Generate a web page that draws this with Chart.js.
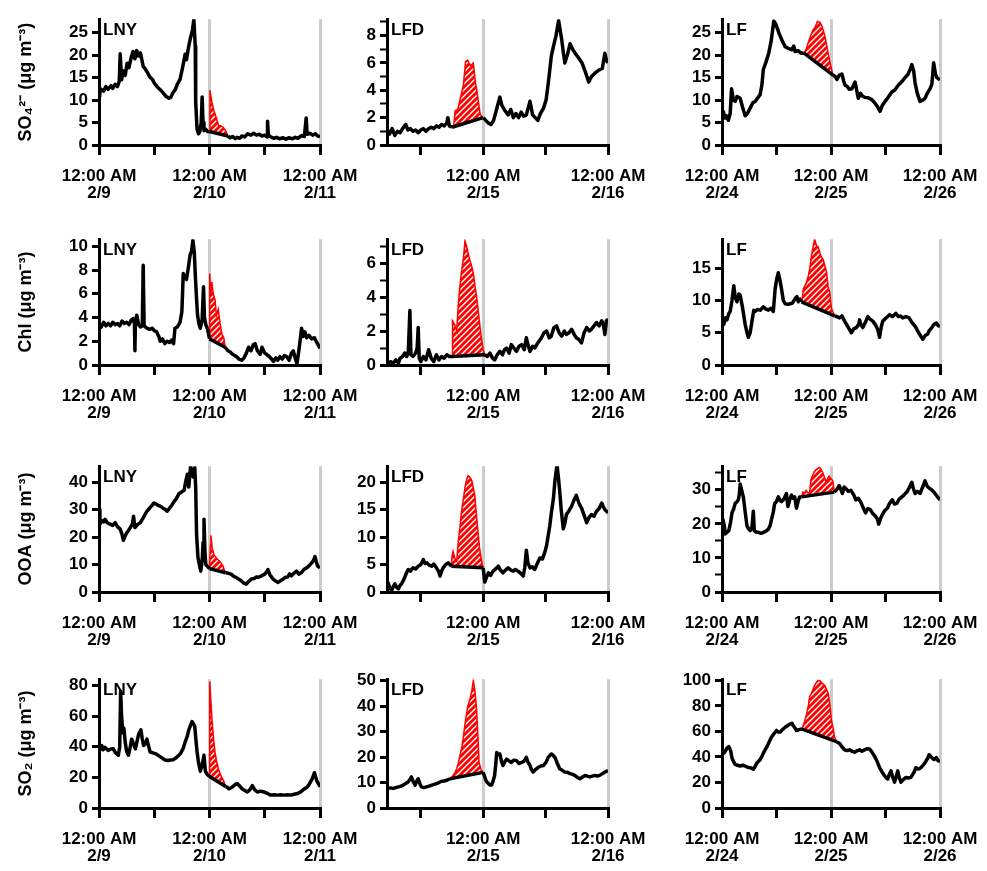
<!DOCTYPE html>
<html>
<head>
<meta charset="utf-8">
<script src="https://cdn.jsdelivr.net/npm/chart.js@4.4.0/dist/chart.umd.min.js"></script>
<style>
  body { margin: 0; background: #fff; width: 987px; height: 871px; position: relative; overflow: hidden; }
  canvas { position: absolute; }
</style>
</head>
<body>
<script>
// ---- data (hours from midnight of the first day, value) ----
const TIME_LABEL = '12:00 AM';
const lnyDates = ['2/9', '2/10', '2/11'];
const lfdDates = ['2/14', '2/15', '2/16'];
const lfDates = ['2/24', '2/25', '2/26'];
const xTicksFull = [0, 12, 24, 36, 48];
const xTicksLfd = [12, 24, 36, 48];
const yTitles = ['SO\u2084\u00B2\u207B (\u03BCg m\u207B\u00B3)', 'Chl (\u03BCg m\u207B\u00B3)', 'OOA (\u03BCg m\u207B\u00B3)', 'SO\u2082 (\u03BCg m\u207B\u00B3)'];

// SO4
const lnySo4Pre = [[0,9.6],[0.3,12.5],[1,12],[1.5,13],[2,12.4],[2.6,13.2],[3,12.6],[3.5,13.5],[4,13],[4.4,14.2],[4.6,20.3],[4.9,14.5],[5.3,16.5],[5.7,15.5],[6.1,18.2],[6.5,17.2],[7,19.5],[7.4,20.8],[7.8,19.2],[8.2,21],[8.6,19.8],[9,20.5],[9.6,17.5],[10,17],[10.6,16],[11,15.2],[11.6,14.6],[12,13.8],[12.6,13],[13,12.6],[13.6,12],[14,11.5],[14.6,10.8],[15.2,10.4],[15.6,10.6],[16,11.5],[16.6,12.4],[17,13.5],[17.6,14.6],[18,16.5],[18.4,18.5],[18.7,20.2],[19,19],[19.4,21.5],[19.9,24],[20.3,25.5],[20.6,28],[20.9,22],[21,9.6],[21.3,3.5],[21.6,2.5],[21.9,3],[22.2,5],[22.4,10.7],[22.6,5],[22.8,3.2],[23.2,3.5],[23.6,3],[24,3]];
const lnySo4Event = [[24,3],[24.1,12.2],[24.5,9.6],[25,7.5],[25.5,6],[26,4.3],[26.5,4.3],[27,3.9],[27.5,3.2],[28,2]];
const lnySo4Base = [[24,3],[28,2]];
const lnySo4Post = [[28,2],[28.5,1.6],[29,1.9],[29.6,1.4],[30,1.7],[30.6,1.5],[31,2],[31.6,1.8],[32.3,2.5],[33,2.2],[33.6,2.6],[34.2,2.2],[34.8,2.4],[35.4,2],[36,2.2],[36.5,1.8],[36.6,5.3],[36.8,2.2],[37.3,1.8],[38,1.5],[38.6,1.7],[39.2,1.4],[40,1.6],[40.6,1.3],[41.2,1.6],[42,1.4],[42.6,1.7],[43.2,1.5],[44,2.1],[44.6,1.9],[45,6],[45.2,2.4],[45.8,2.6],[46.4,2.2],[47,2.5],[47.5,2.0],[48,1.9]];

const lfdSo4Pre = [[5.6,1.1],[6,0.8],[6.5,1.2],[7,0.7],[7.5,1.0],[8,0.9],[8.5,1.2],[9.1,1.5],[9.5,1.1],[10,1.2],[10.5,1.0],[11,1.1],[11.5,0.9],[12,1.1],[12.5,1.2],[13,1.0],[13.5,1.2],[14,1.3],[14.5,1.2],[15,1.4],[15.5,1.3],[16,1.5],[16.5,1.4],[17,1.6],[17.2,2.0],[17.5,1.4],[18,1.3]];
const lfdSo4Event = [[18,1.3],[18.3,1.3],[18.6,2.5],[19.1,2.6],[19.6,3.4],[20.2,4.4],[20.6,6.1],[21,6.2],[21.5,5.8],[22.1,6.0],[22.5,4.6],[22.8,3.9],[23.4,2.3],[23.7,2.1],[24,2.0]];
const lfdSo4Base = [[18,1.3],[24,2.0]];
const lfdSo4Post = [[24,2.0],[24.5,1.8],[25,1.6],[25.5,1.5],[26,1.8],[26.5,2.5],[27.2,3.5],[27.6,2.9],[28.2,2.5],[28.8,2.2],[29.3,2.6],[29.8,2.0],[30.3,2.3],[30.8,2.0],[31.3,2.4],[31.8,2.1],[32.3,2.2],[33,3.2],[33.5,2.2],[34,2.0],[34.5,1.8],[35,2.3],[35.6,2.7],[36.1,3.3],[36.6,4.8],[37.1,6.5],[37.5,7.2],[38,8.0],[38.5,9.1],[38.8,8.4],[39.1,7.7],[39.4,6.8],[39.7,6.0],[40.2,6.6],[40.7,7.4],[41.2,7.0],[41.7,6.7],[42.3,6.4],[43,6.0],[43.6,5.4],[44.3,4.6],[44.8,5.0],[45.6,5.3],[46.3,5.5],[46.9,5.6],[47.4,6.7],[47.7,6.2],[48,6.0]];

const lfSo4Pre = [[0,6.5],[0.3,7.5],[0.6,6],[1,6.5],[1.4,5.5],[1.8,7],[2.1,12.5],[2.5,10],[2.9,9.7],[3.3,10.8],[4,10.4],[4.5,8.5],[5.1,6.5],[5.6,7],[6.2,8.2],[6.8,9.4],[7.3,9.7],[7.8,10.4],[8.4,11.2],[8.8,13.5],[9.1,16.8],[9.7,18.5],[10.3,20.5],[10.8,23],[11.2,26],[11.4,27.6],[11.8,27],[12.1,26.2],[12.6,24.8],[13.2,23.3],[13.9,21.9],[14.6,21.5],[15.4,21.2],[15.8,22],[16.1,20.8],[16.8,21],[17.4,20.4],[18,20.5]];
const lfSo4Event = [[18,20.5],[18.4,21],[19.4,24],[20,25.5],[20.5,26.2],[21,27.5],[21.6,27.3],[22,26.5],[22.3,25.5],[22.7,24],[23.1,21.9],[23.8,18.3],[24.2,16.5],[24.5,15.5]];
const lfSo4Base = [[18,20.5],[24.5,15.5]];
const lfSo4Post = [[24.5,15.5],[25,15.2],[25.3,14.6],[25.8,15.5],[26.4,15.8],[26.8,14.2],[27.1,13.3],[27.6,13],[28,12.4],[28.6,12.5],[29.3,14],[29.7,12],[30,10.4],[30.5,11.5],[31,10.8],[31.5,10.6],[32.2,10.5],[33,10.1],[33.6,9.4],[34.2,8.6],[34.8,7.5],[35.3,8.8],[35.9,9.7],[36.5,10.5],[37.4,11.8],[38,12.2],[38.8,13.3],[39.5,14],[40.3,15],[41,15.8],[41.5,17],[41.8,17.9],[42.2,16.5],[42.5,13.9],[43,11.5],[43.6,9.7],[44.2,10],[44.7,10.4],[45.2,11.5],[45.8,12.5],[46.2,13.5],[46.6,18.3],[47,15.8],[47.3,15],[48,14.5]];

// Chl
const lnyChlPre = [[0,3.4],[0.5,3.2],[1,3.6],[1.5,3.3],[2,3.5],[2.5,3.3],[3,3.6],[3.5,3.4],[4,3.5],[4.5,3.3],[5,3.7],[5.5,3.5],[6,3.6],[6.5,3.4],[7,3.8],[7.4,3.9],[7.7,3.5],[7.8,1.2],[7.9,3.5],[8.2,4.2],[8.6,3.4],[9,3.2],[9.4,3.3],[9.6,8.4],[9.8,3.3],[10.4,3.1],[11,3.0],[11.6,3.1],[12,2.9],[12.5,2.8],[13,2.4],[13.3,2.0],[13.8,2.2],[14.3,1.8],[14.8,2.0],[15.3,1.9],[15.8,2.1],[16.2,1.8],[16.5,3.1],[17,3.2],[17.6,3.6],[18,4.5],[18.3,7.7],[18.6,7.4],[19,7.2],[19.4,8.2],[19.8,9.3],[20.1,9.6],[20.4,10.5],[20.7,9.5],[20.9,7.7],[21.2,5.5],[21.4,4.2],[21.7,3.5],[22,3.1],[22.4,3.8],[22.7,6.6],[22.9,4],[23.2,3.4],[23.6,3.0],[24,2.2]];
const lnyChlEvent = [[24,2.2],[24.05,7.7],[24.3,5.8],[24.5,7.0],[24.8,6.0],[25.2,5.5],[25.5,4.2],[25.9,4.7],[26.3,3.5],[26.7,2.6],[27.1,2.3],[27.4,1.5]];
const lnyChlBase = [[24,2.2],[27.4,1.5]];
const lnyChlPost = [[27.4,1.5],[28,1.2],[28.5,1.1],[29,0.9],[29.5,0.8],[29.9,0.7],[30.4,0.5],[31,0.4],[31.5,0.6],[32,1.0],[32.5,1.5],[33,1.2],[33.5,1.7],[33.9,1.8],[34.4,1.2],[35,0.9],[35.4,1.5],[36,1.0],[36.4,0.9],[37,0.7],[37.5,0.5],[37.9,0.3],[38.4,0.6],[38.8,0.4],[39.3,0.7],[39.8,0.5],[40.3,0.8],[40.8,0.7],[41.3,0.4],[41.8,1.0],[42.2,1.2],[42.6,0.6],[43,0.1],[43.4,1.2],[44,3.1],[44.3,2.4],[44.7,2.8],[45.1,2.3],[45.6,2.5],[46.2,2.2],[46.8,2.3],[47.3,1.9],[48,1.4]];

const lfdChlPre = [[5.7,0.1],[6.2,0.2],[6.7,0.1],[7.2,0.3],[7.7,0.1],[8,0.4],[8.5,0.5],[8.9,0.7],[9.3,0.5],[9.6,0.8],[9.9,3.2],[10.1,0.6],[10.5,0.5],[11,0.7],[11.3,1.0],[11.5,2.2],[11.7,0.4],[12,0.2],[12.5,0.5],[13,0.3],[13.5,0.9],[14,0.4],[14.5,0.2],[15,0.6],[15.5,0.3],[16,0.5],[16.5,0.4],[17,0.6],[17.5,0.5],[18,0.5]];
const lfdChlEvent = [[18,0.5],[18.1,2.6],[18.5,2.4],[18.9,2.0],[19.2,3.5],[19.5,4.6],[19.8,5.4],[20.2,6.3],[20.5,7.3],[20.8,7.0],[21.1,6.6],[21.4,6.2],[21.8,5.8],[22.1,5.4],[22.4,4.7],[22.7,4.1],[23,3.3],[23.4,2.2],[23.7,1.5],[24,0.9],[24.3,0.6]];
const lfdChlBase = [[18,0.5],[24.3,0.6]];
const lfdChlPost = [[24.3,0.6],[24.8,0.5],[25.3,0.7],[25.8,0.4],[26.2,0.3],[26.7,0.6],[27.2,0.8],[27.7,0.6],[28.1,0.9],[28.5,1.0],[29,0.7],[29.4,1.2],[29.9,1.0],[30.4,0.8],[30.9,1.1],[31.4,1.2],[31.9,0.9],[32.3,1.6],[32.6,1.2],[33,0.8],[33.5,1.1],[33.9,1.0],[34.5,1.3],[35.2,1.6],[35.7,1.9],[36.2,2.0],[36.7,1.6],[37.1,1.7],[37.6,2.2],[38.1,2.3],[38.6,1.9],[39.1,1.7],[39.6,2.0],[40,1.8],[40.5,1.9],[41,2.1],[41.5,1.8],[41.9,1.6],[42.4,1.5],[42.9,1.3],[43.4,1.9],[43.9,2.2],[44.4,2.0],[44.8,2.1],[45.3,2.3],[45.8,2.5],[46.3,2.3],[46.8,2.6],[47.1,2.4],[47.4,1.8],[47.7,2.6],[48,2.7]];

const lfChlPre = [[0,6.5],[0.4,6.3],[0.8,7.3],[1.1,7.0],[1.5,8.0],[1.8,8.3],[2.2,10],[2.6,12.3],[2.9,10.5],[3.3,9.8],[3.7,11],[4,10.8],[4.5,9],[5.1,6.3],[5.5,5],[5.8,4.3],[6.2,5],[6.6,6.8],[7,8.5],[7.3,8.3],[7.8,8.6],[8.4,8.5],[9.1,9],[9.6,8.7],[10.2,8.5],[10.8,8.8],[11.3,8.3],[11.7,11.8],[12.1,13.5],[12.4,14.3],[12.8,13],[13.1,11.8],[13.5,10],[13.9,9.5],[14.5,9.4],[15,9.5],[15.5,9.6],[16.1,10.3],[16.5,10.6],[16.8,9.8],[17.2,10.2],[17.5,9.8]];
const lfChlEvent = [[17.5,9.8],[17.7,10.5],[17.9,11.8],[18.6,12.8],[19.0,13.8],[19.3,14.8],[19.7,17],[20.1,18.5],[20.4,19.5],[20.8,18.5],[21.2,18.3],[21.7,17],[22.3,16.3],[22.7,15.2],[23,14.5],[23.4,12],[23.7,11.3],[24.1,8.8],[24.8,7.6]];
const lfChlBase = [[17.5,9.8],[24.8,7.6]];
const lfChlPost = [[24.8,7.6],[25.3,7.5],[25.9,7.3],[26.4,7.6],[27,6.8],[27.5,6.2],[28,5.6],[28.5,5.0],[29,5.6],[29.6,5.8],[30.1,6.3],[30.3,7],[30.6,6.2],[31,5.8],[31.5,6.5],[32.1,7.5],[32.6,7.1],[33.2,6.8],[33.8,6.2],[34.3,5.5],[34.7,4.3],[35.1,6],[35.4,6.8],[36,7.2],[36.9,7.8],[37.5,7.5],[38.3,8],[38.8,7.5],[39.3,7.6],[39.8,7.3],[40.5,7.5],[41.2,7.3],[41.8,6.6],[42.3,6.2],[42.7,5.8],[43.3,5],[44.2,4],[44.8,4.6],[45.3,4.8],[45.6,5.3],[46.2,5.8],[46.7,6.3],[47.2,6.5],[47.6,6.1],[48,6]];

// OOA
const lnyOoaPre = [[0,30],[0.2,24.7],[0.6,26],[1,25.5],[1.3,26.5],[1.8,25.2],[2.4,24.7],[3,24.2],[3.5,25.3],[4,23.8],[4.6,22.9],[5,21],[5.3,18.8],[5.7,20.5],[6,21.5],[6.4,22.4],[7,24],[7.3,25],[7.5,27.6],[7.8,23.5],[8.4,24.6],[9,25.3],[9.6,27],[10.4,29.4],[11,30.5],[11.5,31.5],[11.9,32.4],[12.4,32],[12.9,31.5],[13.4,31.2],[14,30.4],[14.4,30],[14.8,29.4],[15.3,30.5],[15.8,31.6],[16.3,32.9],[16.8,34],[17.4,35.9],[18,36.5],[18.5,37.1],[18.8,40],[19.2,42.9],[19.5,38.2],[19.9,45.9],[20.2,43],[20.5,41.8],[20.8,45.3],[21,38],[21.2,20.6],[21.5,12.5],[21.8,10],[22.1,7.6],[22.4,11.2],[22.6,18],[22.8,26.5],[23,15],[23.2,10],[23.5,9.4],[24,8.5]];
const lnyOoaEvent = [[24,8.5],[24.2,17],[24.3,20.6],[24.6,15.9],[25,13.5],[25.4,12.6],[25.8,11.8],[26.2,11.2],[26.5,10.6],[26.9,9.6],[27.2,8.2],[27.5,7]];
const lnyOoaBase = [[24,8.5],[27.5,7]];
const lnyOoaPost = [[27.5,7],[28.1,6.8],[28.7,6.5],[29.2,5.8],[29.8,5.3],[30.3,4.7],[30.9,4.1],[31.4,3.3],[32,2.9],[32.5,3.8],[33.1,4.7],[33.7,4.9],[34.2,5.5],[34.5,5.3],[35.2,5.8],[36,6.5],[36.4,7.3],[36.7,8.2],[37.1,6.3],[37.5,5.4],[37.8,4.7],[38.3,4.1],[38.9,3.5],[39.5,4.2],[40,4.7],[40.4,5.3],[41,5.5],[41.4,6.6],[41.8,5.9],[42.3,6.8],[42.9,7.6],[43.4,6.5],[44,7.1],[44.5,8.2],[45.1,8.8],[45.6,9.5],[46.2,10.6],[46.6,11.5],[46.9,12.9],[47.2,11],[47.5,9.4],[48,8.8]];

const lfdOoaPre = [[5.7,1.8],[6,0.8],[6.4,0.3],[6.7,1.0],[7,1.5],[7.4,0.8],[7.7,0.6],[8,1.2],[8.3,1.5],[8.7,2.2],[9,2.9],[9.3,3.6],[9.6,4.1],[10,3.8],[10.5,4.4],[11,4.2],[11.5,4.7],[12,5.0],[12.5,5.9],[12.8,5.2],[13.2,5.3],[13.6,4.9],[14.1,4.7],[14.5,5.1],[15,4.4],[15.4,3.8],[15.7,2.9],[16,3.8],[16.3,4.4],[16.8,5.0],[17.3,5.3],[17.9,4.7]];
const lfdOoaEvent = [[17.9,4.7],[18.0,6.5],[18.2,7.4],[18.6,6.0],[18.9,5.6],[19.2,9.1],[19.5,11.5],[19.8,14.4],[20.2,17],[20.5,19.1],[20.8,20.4],[21.1,21.2],[21.5,20.8],[21.8,20.3],[22.1,19],[22.4,17.4],[22.7,14],[23,10.9],[23.3,8],[23.7,5.6],[24,4.4]];
const lfdOoaBase = [[17.9,4.7],[24,4.4]];
const lfdOoaPost = [[24,4.4],[24.3,1.8],[24.6,2.6],[25,3.5],[25.4,3.0],[25.9,3.8],[26.4,4.2],[26.9,4.7],[27.3,4.0],[27.8,3.5],[28.3,4.0],[28.8,4.4],[29.3,4.0],[29.8,3.8],[30.2,4.1],[30.7,3.8],[31.2,3.4],[31.7,2.9],[32,4.5],[32.3,7.6],[32.6,5.3],[33,4.4],[33.4,4.6],[33.9,4.1],[34.4,5.2],[34.9,6.2],[35.4,6.0],[35.9,7.4],[36.2,8.5],[36.5,10.3],[36.8,12],[37.1,14.4],[37.5,17],[37.8,20.3],[38.2,23.2],[38.5,20.5],[38.7,18.5],[39,15],[39.4,11.5],[39.7,12.5],[40,14.1],[40.5,14.8],[41,15.6],[41.5,16.8],[41.9,17.6],[42.4,16.2],[42.9,15.3],[43.4,14],[43.9,12.6],[44.3,13.5],[44.8,14.1],[45.3,13.8],[45.8,14.7],[46.3,15.2],[46.8,16.2],[47.1,15.5],[47.4,15],[48,14.4]];

const lfOoaPre = [[0,17.5],[0.2,21.3],[0.5,19.5],[0.7,17],[1.1,17.5],[1.5,18],[1.9,20.5],[2.2,23.2],[2.6,24.5],[2.9,26],[3.3,26.5],[3.6,27],[3.8,28.5],[4,31.7],[4.3,30],[4.7,27.9],[5.1,23.5],[5.5,19.4],[5.9,18.4],[6.2,18],[6.6,19],[6.9,23.7],[7.1,18],[7.5,17.6],[8,17.5],[8.6,17.2],[9.1,17.5],[9.6,17.8],[10.2,18.4],[10.6,19.5],[10.9,21.3],[11.3,23.5],[11.6,26],[12,26.5],[12.4,27.9],[12.8,26.8],[13.1,26.5],[13.6,27.2],[14.2,28.9],[14.5,25.1],[14.9,27],[15.3,28.4],[15.7,27.5],[16,27.9],[16.4,24.6],[16.8,26.8],[17.1,27.9],[17.5,27.9]];
const lfOoaEvent = [[17.5,27.9],[17.8,29.3],[18.2,29],[18.5,29.8],[19,29],[19.3,29.3],[19.6,33.1],[20,34.3],[20.4,35.5],[21,36.2],[21.5,36.6],[21.9,35.8],[22.2,35],[22.6,33.5],[22.9,32.2],[23.3,33.5],[23.6,34],[24,33.2],[24.4,32.6],[24.6,30.7],[24.7,29.3]];
const lfOoaBase = [[17.5,27.9],[24.7,29.3]];
const lfOoaPost = [[24.7,29.3],[25.1,29.8],[25.5,30.5],[25.8,31.2],[26.2,30],[26.5,28.9],[26.9,30.8],[27.3,30.3],[27.8,29.5],[28.4,29.8],[29,28.5],[29.5,27],[30,27.5],[30.5,26.5],[31,25],[31.6,23.2],[32.1,24.5],[32.7,24.1],[33.2,23],[33.8,22.2],[34.2,21.5],[34.5,19.9],[34.9,21.5],[35.3,22.7],[35.8,23.8],[36.4,24.6],[36.9,26],[37.5,27],[38,25.8],[38.5,26],[39,27.2],[39.6,27.9],[40.1,28.5],[40.7,29.3],[41.2,30.5],[41.8,32.2],[42.1,30.5],[42.5,28.9],[43,29.5],[43.6,28.9],[44.1,30.5],[44.7,32.6],[45.2,31],[45.8,30.3],[46.3,29.8],[46.9,28.9],[47.4,28],[48,27]];

// SO2
const lnySo2Pre = [[0,36.5],[0.3,39],[0.6,40.7],[0.9,38],[1.3,39.5],[2,37.6],[2.6,38.5],[3.1,38.6],[3.6,36],[4.2,34.4],[4.5,40],[4.7,76.2],[4.9,60],[5.2,49],[5.4,52],[5.7,42.8],[6,37],[6.4,34.4],[6.8,40],[7.1,44.9],[7.5,42],[7.9,38.6],[8.3,44],[8.6,48],[9.1,51],[9.4,45],[9.7,40.7],[10.1,42],[10.4,44.9],[10.8,40],[11.1,36.5],[11.7,36],[12.2,35.5],[12.8,34.5],[13.3,33.4],[13.9,32.2],[14.4,31.3],[15,31],[15.5,31.3],[16.1,31.5],[16.6,32.4],[17.2,34],[17.7,35.5],[18.3,39],[18.8,43.8],[19.2,47],[19.5,51],[19.9,54],[20.2,56.4],[20.5,55],[20.8,53.2],[21,46],[21.3,36.5],[21.6,30],[22,24],[22.4,28],[22.8,34.4],[23.1,24],[23.5,21.9],[24,20.5]];
const lnySo2Event = [[24,20.5],[24.05,82.5],[24.3,70],[24.5,59.5],[24.7,52],[24.9,44.9],[25.2,36.5],[25.5,31],[25.9,26],[26.3,22.5],[26.7,19.8],[27.1,17.5],[27.5,14]];
const lnySo2Base = [[24,20.5],[27.5,14]];
const lnySo2Post = [[27.5,14],[27.9,13.5],[28.2,12.5],[28.7,13.2],[29.3,14.6],[29.7,15.5],[30,16],[30.5,14.5],[31.1,12.5],[31.6,11.5],[32.2,10.4],[32.8,12],[33.3,14.6],[33.8,12],[34.4,10.4],[35,11],[35.4,10.8],[35.9,10.4],[36.6,9.5],[37.3,8.4],[38,8.6],[38.8,8.4],[39.5,8.7],[40.2,8.4],[41,8.6],[41.7,8.4],[42.4,9.0],[43.1,9.4],[43.8,10.5],[44.6,12.5],[45.2,13.5],[45.7,15.7],[46.3,19],[46.8,23],[47.3,17.7],[47.9,14.6],[48,14.6]];

const lfdSo2Pre = [[5.7,7.7],[6.2,7.9],[6.7,7.7],[7.2,8.0],[7.7,8.3],[8.2,8.6],[8.6,9],[9.1,9.6],[9.6,10.3],[10,11.5],[10.2,12.2],[10.5,10.5],[10.9,9],[11.2,10.5],[11.5,11.5],[11.8,9.6],[12.1,8.3],[12.6,8.0],[13.1,8.3],[13.6,8.6],[14.1,9],[14.6,9.3],[15,9.6],[15.5,10],[16,10.5],[16.5,10.6],[17,10.9],[17.6,11.5]];
const lfdSo2Event = [[17.6,11.5],[18.2,12.8],[18.6,14],[18.9,15.4],[19.2,17.5],[19.5,20.5],[19.9,24],[20.2,28.2],[20.5,33],[20.8,37.2],[21.1,40.5],[21.4,42.3],[21.8,46],[22.1,50],[22.4,46.2],[22.7,39.7],[23,28],[23.2,17.9],[23.7,14.5],[24,14]];
const lfdSo2Base = [[17.6,11.5],[24,14]];
const lfdSo2Post = [[24,14],[24.3,12.2],[24.6,10.5],[25,9.6],[25.3,9.0],[25.6,9],[25.9,10.5],[26.2,12.8],[26.4,17],[26.6,21.8],[26.9,21],[27.2,21.2],[27.5,18.5],[27.8,16.7],[28.1,18],[28.5,19.2],[28.9,18.6],[29.4,17.9],[29.9,18.8],[30.4,18.6],[30.9,17.5],[31.4,17.9],[31.9,18.5],[32.3,19.9],[32.6,18],[33,16.7],[33.3,15],[33.6,14.1],[34.1,15.2],[34.6,16],[35.1,16.5],[35.6,16.7],[36.1,18],[36.5,19.9],[37.1,21.2],[37.4,20.8],[37.8,19.9],[38.2,17.8],[38.7,15.4],[39.2,14.8],[39.7,14.1],[40.2,14],[40.7,13.5],[41.2,13.2],[41.6,12.8],[42.1,12],[42.6,11.5],[43.1,12.2],[43.6,12.8],[44,12.5],[44.5,12.2],[45,12.5],[45.5,12.8],[46,12.6],[46.4,12.8],[46.9,13.5],[47.4,14.1],[48,14.7]];

const lfSo2Pre = [[0,42],[0.4,43],[0.8,45],[1.1,47],[1.5,48.1],[1.9,45],[2.2,39.2],[2.6,36],[2.9,34.2],[3.4,33.5],[4,32.9],[4.6,33.5],[5.1,32.9],[5.6,32],[6.2,31.6],[6.6,31],[6.9,30.4],[7.3,32.5],[7.7,35.4],[8,36.5],[8.4,38],[8.8,40.5],[9.1,43],[9.5,45.5],[9.9,48.1],[10.4,52],[10.9,55.7],[11.4,58],[12,60.8],[12.4,59.5],[12.8,59.5],[13.3,61.5],[13.9,63.3],[14.4,64.5],[15,65.8],[15.4,66.5],[15.7,64.6],[16.1,62.5],[16.4,60.8],[17,61.5],[17.5,62]];
const lfSo2Event = [[17.5,62],[17.9,64.6],[18.2,68],[18.6,73.4],[19,80],[19.3,87.3],[19.7,90],[20.1,93.7],[20.4,96],[20.8,98.7],[21.1,100],[21.5,100],[22,98],[22.6,96.2],[23,93],[23.4,89.9],[23.8,80],[24.1,68.4],[24.5,62],[24.8,55.7],[25.2,52]];
const lfSo2Base = [[17.5,62],[25.2,52]];
const lfSo2Post = [[25.2,52],[25.9,50.6],[26.4,48],[27,45.6],[27.5,45],[28.1,45.6],[28.6,44.5],[29.2,43.8],[29.7,44.8],[30.3,45.6],[30.8,44.5],[31.4,45.6],[31.9,46.5],[32.5,46.3],[33,44],[33.6,40.5],[34.1,37],[34.7,31.6],[35.2,28.5],[35.8,25.3],[36.2,23.5],[36.5,22.8],[36.8,26],[37.2,29.1],[37.6,24],[38,20.3],[38.3,24],[38.7,29.1],[39,24],[39.4,20.3],[40,22.5],[40.5,24],[41,23.5],[41.6,24],[42.2,27.5],[42.7,31.6],[43.2,30.5],[43.8,31.6],[44.4,34],[44.9,36.7],[45.3,39],[45.6,41.8],[46.2,39.5],[46.7,38],[47.2,39.5],[47.6,37],[48,36.7]];

// y tick labels and minor ticks per panel
const so4LnyTicks = [0, 5, 10, 15, 20, 25];
const so4LfdTicks = [0, 2, 4, 6, 8];
const so4LfdMinor = [1, 3, 5, 7, 9];
const so4LfTicks = [0, 5, 10, 15, 20, 25];
const chlLnyTicks = [0, 2, 4, 6, 8, 10];
const chlLfdTicks = [0, 2, 4, 6];
const chlLfdMinor = [1, 3, 5, 7];
const chlLfTicks = [0, 5, 10, 15];
const ooaLnyTicks = [0, 10, 20, 30, 40];
const ooaLfdTicks = [0, 5, 10, 15, 20];
const ooaLfTicks = [0, 10, 20, 30];
const ooaLfMinor = [5, 15, 25, 35];
const so2LnyTicks = [0, 20, 40, 60, 80];
const so2LfdTicks = [0, 10, 20, 30, 40, 50];
const so2LfTicks = [0, 20, 40, 60, 80, 100];

// ---- layout ----
const colLeft = [99, 387, 722];
const colRight = [320, 608, 940];
const rowTop = [15, 235, 462, 675];
const rowBottom = [145, 365, 592, 808];
const colSite = ['LNY', 'LFD', 'LF'];
const colDates = [lnyDates, lfdDates, lfDates];
const colXMin = [0, 5.5, 0];
const colXTicks = [xTicksFull, xTicksLfd, xTicksFull];

const panels = [
    { row: 0, col: 0, pre: lnySo4Pre, post: lnySo4Post, base: lnySo4Base, ev: lnySo4Event, yMax: 28, yTicks: so4LnyTicks, yMinor: [] },
    { row: 0, col: 1, pre: lfdSo4Pre, post: lfdSo4Post, base: lfdSo4Base, ev: lfdSo4Event, yMax: 9.2, yTicks: so4LfdTicks, yMinor: so4LfdMinor },
    { row: 0, col: 2, pre: lfSo4Pre, post: lfSo4Post, base: lfSo4Base, ev: lfSo4Event, yMax: 28, yTicks: so4LfTicks, yMinor: [] },
    { row: 1, col: 0, pre: lnyChlPre, post: lnyChlPost, base: lnyChlBase, ev: lnyChlEvent, yMax: 10.6, yTicks: chlLnyTicks, yMinor: [] },
    { row: 1, col: 1, pre: lfdChlPre, post: lfdChlPost, base: lfdChlBase, ev: lfdChlEvent, yMax: 7.4, yTicks: chlLfdTicks, yMinor: chlLfdMinor },
    { row: 1, col: 2, pre: lfChlPre, post: lfChlPost, base: lfChlBase, ev: lfChlEvent, yMax: 19.5, yTicks: chlLfTicks, yMinor: [] },
    { row: 2, col: 0, pre: lnyOoaPre, post: lnyOoaPost, base: lnyOoaBase, ev: lnyOoaEvent, yMax: 45.8, yTicks: ooaLnyTicks, yMinor: [] },
    { row: 2, col: 1, pre: lfdOoaPre, post: lfdOoaPost, base: lfdOoaBase, ev: lfdOoaEvent, yMax: 22.9, yTicks: ooaLfdTicks, yMinor: [] },
    { row: 2, col: 2, pre: lfOoaPre, post: lfOoaPost, base: lfOoaBase, ev: lfOoaEvent, yMax: 36.9, yTicks: ooaLfTicks, yMinor: ooaLfMinor },
    { row: 3, col: 0, pre: lnySo2Pre, post: lnySo2Post, base: lnySo2Base, ev: lnySo2Event, yMax: 84, yTicks: so2LnyTicks, yMinor: [] },
    { row: 3, col: 1, pre: lfdSo2Pre, post: lfdSo2Post, base: lfdSo2Base, ev: lfdSo2Event, yMax: 50.6, yTicks: so2LfdTicks, yMinor: [] },
    { row: 3, col: 2, pre: lfSo2Pre, post: lfSo2Post, base: lfSo2Base, ev: lfSo2Event, yMax: 101, yTicks: so2LfTicks, yMinor: [] }
];

const FONT = "'Liberation Sans', Arial, sans-serif";

function toXY(pairs) {
    return pairs.map(p => ({ x: p[0], y: p[1] }));
}

function makeHatch() {
    const c = document.createElement('canvas');
    c.width = 6;
    c.height = 6;
    const g = c.getContext('2d');
    g.fillStyle = '#ff0000';
    g.fillRect(0, 0, 6, 6);
    g.strokeStyle = '#ffffff';
    g.lineWidth = 1.4;
    g.beginPath();
    g.moveTo(-1, 7); g.lineTo(7, -1);
    g.moveTo(-4, 4); g.lineTo(4, -4);
    g.moveTo(2, 10); g.lineTo(10, 2);
    g.stroke();
    return g.createPattern(c, 'repeat');
}

const siteLabel = {
    id: 'siteLabel',
    afterDatasetsDraw(chart, args, opts) {
        const { ctx, chartArea } = chart;
        ctx.save();
        ctx.font = 'bold 17px ' + FONT;
        ctx.fillStyle = '#000';
        ctx.textBaseline = 'top';
        ctx.fillText(opts.text, chartArea.left + 4, chartArea.top + 3);
        ctx.restore();
    }
};

function makePanel(p) {
    const yW = p.col === 0 ? 85 : 60;
    const padTop = 10, padRight = 58, xH = 62;
    const plotW = colRight[p.col] - colLeft[p.col];
    const plotH = rowBottom[p.row] - rowTop[p.row];

    const canvas = document.createElement('canvas');
    canvas.width = yW + plotW + padRight;
    canvas.height = padTop + plotH + xH;
    canvas.style.left = (colLeft[p.col] - yW) + 'px';
    canvas.style.top = (rowTop[p.row] - padTop) + 'px';
    document.body.appendChild(canvas);

    const dates = colDates[p.col];
    const xTicks = colXTicks[p.col];
    const yAll = p.yTicks.concat(p.yMinor);
    const black = { borderColor: '#000', borderWidth: 3.5, pointRadius: 0, fill: false, borderJoinStyle: 'round', tension: 0 };

    return new Chart(canvas.getContext('2d'), {
        type: 'line',
        data: {
            datasets: [
                Object.assign({ data: toXY(p.pre) }, black),
                Object.assign({ data: toXY(p.post) }, black),
                Object.assign({ data: toXY(p.base) }, black),
                {
                    data: toXY(p.ev),
                    borderColor: '#ff0000',
                    borderWidth: 1.5,
                    pointRadius: 0,
                    tension: 0,
                    backgroundColor: makeHatch(),
                    fill: { target: 2 }
                }
            ]
        },
        options: {
            responsive: false,
            animation: false,
            devicePixelRatio: 1,
            events: [],
            layout: { padding: { top: padTop, right: padRight, left: 0, bottom: 0 } },
            plugins: {
                legend: { display: false },
                tooltip: { enabled: false },
                siteLabel: { text: colSite[p.col] }
            },
            scales: {
                x: {
                    type: 'linear',
                    min: colXMin[p.col],
                    max: 48,
                    afterFit: (s) => { s.height = xH; },
                    afterBuildTicks: (s) => { s.ticks = xTicks.map(v => ({ value: v })); },
                    border: { display: true, color: '#000', width: 3 },
                    grid: {
                        drawOnChartArea: true,
                        drawTicks: true,
                        tickLength: 10,
                        tickWidth: 3,
                        tickColor: '#000',
                        lineWidth: 3,
                        color: (ctx) => (ctx.tick && ctx.tick.value > 0 && ctx.tick.value % 24 === 0) ? '#cccccc' : 'rgba(0,0,0,0)'
                    },
                    ticks: {
                        autoSkip: false,
                        maxRotation: 0,
                        padding: 12,
                        color: '#000',
                        font: { family: FONT, size: 17, weight: 'bold', lineHeight: 1.05 },
                        callback: (v) => v % 24 === 0 ? [TIME_LABEL, dates[v / 24]] : ''
                    }
                },
                y: {
                    type: 'linear',
                    min: 0,
                    max: p.yMax,
                    afterFit: (s) => { s.width = yW; },
                    afterBuildTicks: (s) => { s.ticks = yAll.map(v => ({ value: v })); },
                    border: { display: true, color: '#000', width: 3 },
                    grid: {
                        drawOnChartArea: false,
                        drawTicks: true,
                        tickLength: 7,
                        tickColor: '#000',
                        tickWidth: (ctx) => p.yTicks.includes(ctx.tick.value) ? 3 : 2
                    },
                    ticks: {
                        autoSkip: false,
                        padding: 4,
                        color: '#000',
                        font: { family: FONT, size: 17, weight: 'bold' },
                        callback: (v) => p.yTicks.includes(v) ? String(v) : ''
                    },
                    title: {
                        display: p.col === 0,
                        text: yTitles[p.row],
                        color: '#000',
                        font: { family: FONT, size: 18, weight: 'bold' },
                        padding: { top: 1, bottom: 0 }
                    }
                }
            }
        },
        plugins: [siteLabel]
    });
}

panels.forEach(makePanel);
</script>
</body>
</html>
